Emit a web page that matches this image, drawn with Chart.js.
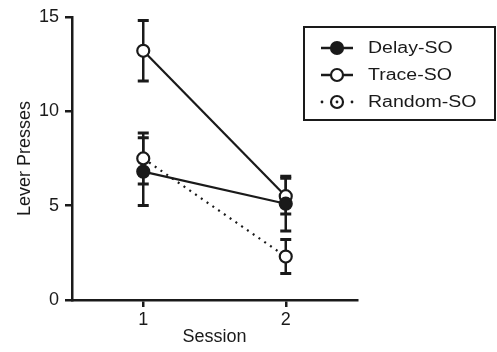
<!DOCTYPE html>
<html>
<head>
<meta charset="utf-8">
<script src="https://cdn.jsdelivr.net/npm/chart.js@4"></script>
<style>
  html, body { margin: 0; padding: 0; background: #fff; }
  #wrap { width: 497px; height: 352px; }
</style>
</head>
<body>
<div id="wrap"><canvas id="c" width="497" height="352"></canvas></div>
<script>
const sessions = [1, 2];
const seriesNames = ['Delay-SO', 'Trace-SO', 'Random-SO'];
const delayMean = [6.8, 5.1];
const delayErr = [1.8, 1.45];
const traceMean = [13.2, 5.5];
const traceErr = [1.6, 0.95];
const randomMean = [7.5, 2.3];
const randomErr = [1.35, 0.9];
const yTicks = [0, 5, 10, 15];

const ink = '#1a1a1a';
const font = 'Liberation Sans, Arial, Helvetica, sans-serif';

function pts(means) {
    return sessions.map((s, i) => ({ x: s, y: means[i] }));
}

// error bars drawn under the markers
const errorBars = {
    id: 'errorBars',
    beforeDatasetsDraw(chart) {
        const { ctx, scales: { x, y } } = chart;
        const errs = [delayErr, traceErr, randomErr];
        ctx.save();
        ctx.strokeStyle = ink;
        chart.data.datasets.forEach((ds, d) => {
            ds.data.forEach((p, i) => {
                const px = x.getPixelForValue(p.x);
                const top = y.getPixelForValue(p.y + errs[d][i]);
                const bot = y.getPixelForValue(p.y - errs[d][i]);
                ctx.lineWidth = 2.5;
                ctx.beginPath();
                ctx.moveTo(px, top); ctx.lineTo(px, bot);
                ctx.stroke();
                ctx.lineWidth = 3;
                ctx.beginPath();
                ctx.moveTo(px - 5.5, top); ctx.lineTo(px + 5.5, top);
                ctx.moveTo(px - 5.5, bot); ctx.lineTo(px + 5.5, bot);
                ctx.stroke();
            });
        });
        ctx.restore();
    }
};

// boxed legend at top right
const boxLegend = {
    id: 'boxLegend',
    afterDraw(chart) {
        const { ctx } = chart;
        const x0 = 304, y0 = 27, w = 191, h = 93;
        ctx.save();
        ctx.strokeStyle = ink;
        ctx.lineWidth = 2;
        ctx.strokeRect(x0, y0, w, h);
        chart.data.datasets.forEach((ds, i) => {
            const cy = 48 + i * 27;
            const dashed = !!ds.borderDash;
            ctx.strokeStyle = ink;
            ctx.lineWidth = 2.5;
            if (!dashed) {
                ctx.beginPath();
                ctx.moveTo(321, cy); ctx.lineTo(353, cy);
                ctx.stroke();
            }
            ctx.lineWidth = 2.2;
            ctx.beginPath();
            ctx.arc(337, cy, 6, 0, Math.PI * 2);
            ctx.fillStyle = ds.pointBackgroundColor;
            ctx.fill();
            ctx.stroke();
            if (dashed) {
                ctx.fillStyle = ink;
                [322, 337, 352].forEach(dx => {
                    ctx.beginPath();
                    ctx.arc(dx, cy, 1.4, 0, Math.PI * 2);
                    ctx.fill();
                });
            }
            ctx.fillStyle = ink;
            ctx.font = '16px ' + font;
            ctx.textBaseline = 'middle';
            ctx.save();
            ctx.translate(368, cy + 1);
            ctx.scale(1.22, 1);
            ctx.fillText(ds.label, 0, 0);
            ctx.restore();
        });
        ctx.restore();
    }
};

const common = {
    borderColor: ink,
    borderWidth: 2.2,
    pointRadius: 6,
    pointBorderWidth: 2.2,
    pointBorderColor: ink,
    showLine: true,
    tension: 0
};

new Chart(document.getElementById('c'), {
    type: 'scatter',
    data: {
        datasets: [
            { ...common, label: seriesNames[0], data: pts(delayMean), pointBackgroundColor: ink },
            { ...common, label: seriesNames[1], data: pts(traceMean), pointBackgroundColor: '#fff' },
            { ...common, label: seriesNames[2], data: pts(randomMean), pointBackgroundColor: '#fff', borderDash: [2, 5] }
        ]
    },
    options: {
        responsive: false,
        animation: false,
        layout: { padding: { top: 16, right: 140, left: 0, bottom: 0 } },
        plugins: { legend: { display: false }, tooltip: { enabled: false } },
        scales: {
            x: {
                type: 'linear',
                min: 0.5,
                max: 2.5,
                afterBuildTicks: s => { s.ticks = sessions.map(v => ({ value: v })); },
                afterFit: s => { s.height = 52; },
                grid: { drawOnChartArea: false, color: ink, lineWidth: 2.5, tickLength: 7 },
                border: { color: ink, width: 2.5 },
                ticks: { color: ink, font: { family: font, size: 18 }, padding: 2 },
                title: { display: true, text: 'Session', color: ink, font: { family: font, size: 18 }, padding: { top: 3 } }
            },
            y: {
                min: 0,
                max: 15,
                afterBuildTicks: s => { s.ticks = yTicks.map(v => ({ value: v })); },
                afterFit: s => { s.width = 72; },
                grid: { drawOnChartArea: false, color: ink, lineWidth: 2.5, tickLength: 7 },
                border: { color: ink, width: 2.5 },
                ticks: { color: ink, font: { family: font, size: 18 }, padding: 6 },
                title: { display: true, text: 'Lever Presses', color: ink, font: { family: font, size: 18 }, padding: { top: 14, bottom: 0 } }
            }
        }
    },
    plugins: [errorBars, boxLegend]
});
</script>
</body>
</html>
